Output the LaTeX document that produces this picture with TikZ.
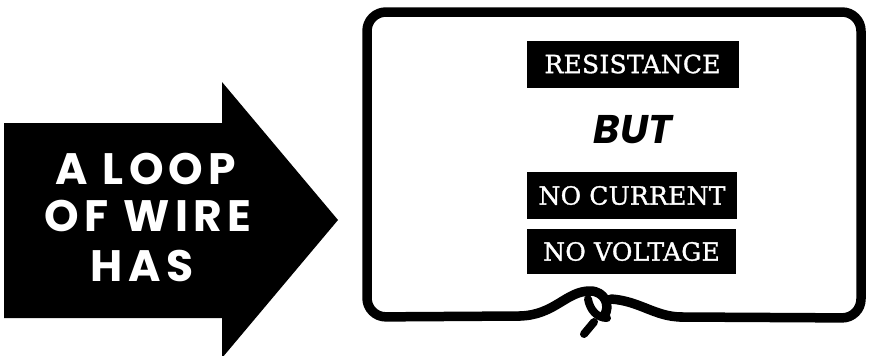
\documentclass[tikz,border=0pt]{standalone}
\usepackage{fontspec}
\newfontfamily\arrowfont{Poppins}[LetterSpace=12]
\newfontfamily\butfont{Poppins}
\newfontfamily\labelfont{DejaVu Serif}[LetterSpace=1,FakeBold=1.2]
\begin{document}
\begin{tikzpicture}[x=1pt,y=-1pt,
  wire/.style={line width=9.5pt,line cap=round,line join=round},
  lbl/.style={fill=black,text=white,inner sep=0pt,minimum width=212pt,minimum height=47pt,font=\labelfont\fontsize{25}{25}\selectfont},
  arrowtext/.style={text=white,inner sep=0pt,anchor=base,font=\arrowfont\bfseries\fontsize{44}{44}\selectfont}]
\useasboundingbox (0,0) rectangle (871,356);
\clip (0,0) rectangle (871,356);
% arrow
\fill (4,123) -- (222,123) -- (222,82) -- (338,220) -- (222,358) -- (222,318) -- (4,318) -- cycle;
\node[arrowtext] (t1) at (146,184) {A LOOP};
\node[arrowtext] (t2) at (148,231) {OF WIRE};
\node[arrowtext] (t3) at (142,281) {HAS};
% loop of wire
\draw[wire,rounded corners=19pt] (680,317) -- (861,318) -- (861,12) -- (367,12) -- (367,317) -- (520,316);
\draw[wire] (520,316) .. controls (555,315) and (566,291) .. (590,291) .. controls (605,291) and (611,306) .. (604,316);
\draw[wire] (611,299) .. controls (640,301) and (655,317) .. (682,317);
\draw[wire,line width=8pt] (588,299) .. controls (590,310) and (597,318) .. (607,318);
\draw[wire,line width=8pt] (594,322) -- (584,334);
% labels
\node[lbl] (r) at (632.5,64) {RESISTANCE};
\node[text=black,inner sep=0pt,anchor=base,font=\butfont\bfseries\itshape\fontsize{40}{40}\selectfont] (but) at (633,143) {BUT};
\node[lbl,minimum width=210pt] (c) at (632,195.5) {NO CURRENT};
\node[lbl,minimum width=209pt,minimum height=45pt] (v) at (631.5,251.5) {NO VOLTAGE};
\end{tikzpicture}
\end{document}
